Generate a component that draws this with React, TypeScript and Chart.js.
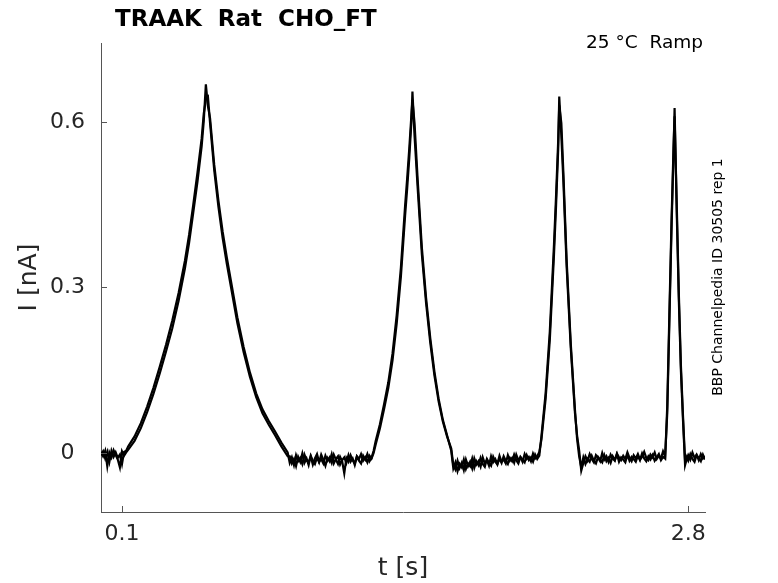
import React, { useEffect, useRef } from 'react';
import { Chart, registerables } from 'chart.js';

Chart.register(...registerables);

const FONT = '"DejaVu Sans", sans-serif';
const INK = '#262626';
const AXIS = '#555555';

const title = 'TRAAK  Rat  CHO_FT';
const condition = '25 °C  Ramp';
const sourceNote = 'BBP Channelpedia ID 30505 rep 1';
const xLabel = 't [s]';
const yLabel = 'I [nA]';

const xTicks = [0.1, 2.8];
const yTicks = [0, 0.3, 0.6];

// sample times [s]
const time = [
  0, 0.01, 0.02, 0.03, 0.04, 0.05, 0.06, 0.07, 0.08, 0.09, 0.1, 0.11, 0.12,
  0.13, 0.16, 0.19, 0.22, 0.25, 0.28, 0.31, 0.34, 0.37, 0.4, 0.42, 0.44, 0.46, 0.48, 0.49, 0.5,
  0.51, 0.52, 0.54, 0.56, 0.58, 0.6, 0.62, 0.65, 0.68, 0.71, 0.74, 0.77, 0.8, 0.83, 0.86, 0.89,
  0.9, 0.91, 0.92, 0.93, 0.94, 0.95, 0.96, 0.97, 0.98, 0.99, 1.0, 1.01, 1.02, 1.03, 1.04, 1.05,
  1.06, 1.07, 1.08, 1.09, 1.1, 1.11, 1.12, 1.13, 1.14, 1.15, 1.16, 1.17, 1.18, 1.19, 1.2, 1.21,
  1.22, 1.23, 1.24, 1.25, 1.26, 1.27, 1.28, 1.29, 1.3,
  1.31, 1.33, 1.35, 1.37, 1.39, 1.41, 1.43, 1.45, 1.46, 1.47, 1.48, 1.485,
  1.495, 1.51, 1.53, 1.55, 1.57, 1.59, 1.61, 1.63, 1.65, 1.67,
  1.68, 1.69, 1.7, 1.71, 1.72, 1.73, 1.74, 1.75, 1.76, 1.77, 1.78, 1.79, 1.8, 1.81, 1.82, 1.83,
  1.84, 1.85, 1.86, 1.87, 1.88, 1.89, 1.9, 1.91, 1.92, 1.93, 1.94, 1.95, 1.96, 1.97, 1.98, 1.99,
  2.0, 2.01, 2.02, 2.03, 2.04, 2.05, 2.06, 2.07, 2.08, 2.09,
  2.1, 2.12, 2.14, 2.16, 2.17, 2.18, 2.185,
  2.195, 2.205, 2.22, 2.24, 2.26, 2.27, 2.28,
  2.29, 2.3, 2.31, 2.32, 2.33, 2.34, 2.35, 2.36, 2.37, 2.38, 2.39, 2.4, 2.41, 2.42, 2.43, 2.44,
  2.45, 2.46, 2.47, 2.48, 2.49, 2.5, 2.51, 2.52, 2.53, 2.54, 2.55, 2.56, 2.57, 2.58, 2.59, 2.6,
  2.61, 2.62, 2.63, 2.64, 2.65, 2.66, 2.67, 2.68, 2.69,
  2.7, 2.71, 2.72, 2.73, 2.735,
  2.745, 2.755, 2.765, 2.775, 2.785,
  2.79, 2.8, 2.81, 2.82, 2.83, 2.84, 2.85, 2.86, 2.87, 2.88,
];

// current [nA], sweep A
const sweepA = [
  0.002, -0.006, 0.004, -0.024, 0.001, -0.008, 0.005, -0.004, -0.012, -0.026, 0.003, -0.005, 0.001,
  0.006, 0.022, 0.045, 0.074, 0.107, 0.144, 0.184, 0.226, 0.276, 0.334, 0.381, 0.436, 0.492, 0.556, 0.602, 0.668,
  0.628, 0.607, 0.522, 0.457, 0.401, 0.354, 0.311, 0.246, 0.192, 0.146, 0.108, 0.079, 0.058, 0.039, 0.019, 0.001,
  -0.018, -0.008, -0.022, -0.004, -0.015, -0.009, -0.02, -0.003, -0.013, -0.017, -0.006, -0.021, -0.01, -0.002,
  -0.016, -0.011, -0.019, -0.005, -0.014, -0.008, -0.018, -0.003, -0.012, -0.02, -0.007, -0.015, -0.037, -0.009,
  -0.016, -0.004, -0.013, -0.019, -0.006, -0.011, -0.002, -0.014, -0.008, -0.017, -0.005, -0.01, 0.0,
  0.016, 0.045, 0.08, 0.118, 0.168, 0.235, 0.32, 0.43, 0.48, 0.535, 0.6, 0.655,
  0.575, 0.48, 0.36, 0.272, 0.2, 0.14, 0.093, 0.057, 0.03, 0.008,
  -0.022, -0.03, -0.014, -0.027, -0.018, -0.031, -0.012, -0.024, -0.016, -0.028, -0.01, -0.021, -0.015, -0.025,
  -0.008, -0.019, -0.013, -0.023, -0.006, -0.017, -0.011, -0.02, -0.005, -0.016, -0.012, -0.019, -0.004, -0.014,
  -0.009, -0.018, -0.003, -0.013, -0.008, -0.016, -0.002, -0.011, -0.007, -0.015, -0.001, -0.01, -0.006, 0.002,
  0.024, 0.098, 0.205, 0.36, 0.45, 0.55, 0.646,
  0.575, 0.49, 0.34, 0.19, 0.072, 0.032, 0.004,
  -0.032, -0.018, -0.006, -0.014, -0.002, -0.011, -0.017, -0.004, -0.009, -0.015, 0.0, -0.012, -0.006, -0.016,
  -0.003, -0.01, -0.014, -0.001, -0.008, -0.013, -0.005, -0.011, 0.001, -0.009, -0.015, -0.004, -0.01, -0.002,
  -0.012, -0.007, 0.002, -0.009, -0.013, -0.003, -0.008, 0.001, -0.011, -0.005, -0.01, 0.003, -0.006,
  0.072, 0.235, 0.4, 0.545, 0.625,
  0.44, 0.28, 0.15, 0.06, -0.022,
  -0.015, -0.004, -0.012, 0.001, -0.009, -0.003, -0.013, -0.002, -0.01, -0.006,
];

// current [nA], sweep B
const sweepB = [
  -0.004, 0.003, -0.01, 0.002, -0.016, 0.004, -0.007, 0.001, -0.009, -0.003, -0.02, 0.002, 0.004,
  0.012, 0.03, 0.054, 0.084, 0.118, 0.156, 0.196, 0.24, 0.29, 0.348, 0.395, 0.45, 0.508, 0.57, 0.615, 0.64,
  0.645, 0.598, 0.512, 0.446, 0.39, 0.343, 0.3, 0.236, 0.183, 0.138, 0.101, 0.072, 0.051, 0.032, 0.012, -0.006,
  -0.006, -0.019, -0.011, -0.024, -0.007, -0.016, -0.001, -0.018, -0.01, -0.022, -0.005, -0.014, -0.02, -0.008,
  -0.017, -0.003, -0.012, -0.023, -0.009, -0.015, -0.002, -0.019, -0.011, -0.006, -0.021, -0.013, -0.008, -0.018,
  -0.004, -0.016, -0.01, -0.022, -0.007, -0.014, -0.019, -0.005, -0.012, -0.002, -0.015, -0.009, 0.004,
  0.022, 0.052, 0.089, 0.128, 0.18, 0.25, 0.336, 0.448, 0.498, 0.552, 0.612, 0.64,
  0.598, 0.495, 0.372, 0.281, 0.208, 0.147, 0.098, 0.06, 0.032, 0.004,
  -0.028, -0.017, -0.033, -0.02, -0.026, -0.012, -0.029, -0.019, -0.024, -0.01, -0.027, -0.015, -0.022, -0.009,
  -0.02, -0.025, -0.011, -0.018, -0.023, -0.007, -0.016, -0.021, -0.01, -0.018, -0.006, -0.014, -0.02, -0.009,
  -0.015, -0.003, -0.013, -0.019, -0.007, -0.012, -0.017, -0.004, -0.013, -0.008, -0.016, -0.003, -0.011, -0.005,
  0.03, 0.108, 0.22, 0.378, 0.468, 0.566, 0.63,
  0.598, 0.505, 0.352, 0.198, 0.078, 0.026, -0.006,
  -0.026, -0.008, -0.02, -0.011, -0.016, -0.005, -0.014, -0.019, -0.007, -0.012, -0.017, -0.004, -0.015, -0.009,
  -0.018, -0.006, -0.013, -0.002, -0.016, -0.008, -0.012, -0.017, -0.003, -0.014, -0.007, -0.011, -0.016, -0.005,
  -0.013, -0.001, -0.01, -0.015, -0.006, -0.012, -0.004, -0.014, -0.008, -0.002, -0.013, -0.007, -0.01,
  0.085, 0.25, 0.415, 0.555, 0.61,
  0.455, 0.292, 0.16, 0.068, -0.014,
  -0.006, -0.014, -0.002, -0.011, -0.016, -0.004, -0.009, -0.015, -0.003, -0.012,
];

const sweeps = [sweepA, sweepB];

// inward tick marks plus the free-standing annotations
const decorations = {
  id: 'decorations',
  afterDraw(chart: any) {
    const { ctx, chartArea, scales } = chart;
    ctx.save();
    ctx.strokeStyle = AXIS;
    ctx.lineWidth = 1;
    yTicks.forEach((v) => {
      const y = Math.round(scales.y.getPixelForValue(v)) + 0.5;
      ctx.beginPath();
      ctx.moveTo(chartArea.left, y);
      ctx.lineTo(chartArea.left + 6, y);
      ctx.stroke();
    });
    xTicks.forEach((v) => {
      const x = Math.round(scales.x.getPixelForValue(v)) + 0.5;
      ctx.beginPath();
      ctx.moveTo(x, chartArea.bottom);
      ctx.lineTo(x, chartArea.bottom - 6);
      ctx.stroke();
    });

    ctx.fillStyle = '#000';
    ctx.textBaseline = 'alphabetic';
    ctx.textAlign = 'left';
    ctx.font = `bold 23px ${FONT}`;
    ctx.fillText(title, 115, 26);

    ctx.textAlign = 'right';
    ctx.font = `18.5px ${FONT}`;
    ctx.fillText(condition, 703, 48);

    ctx.translate(722, 277);
    ctx.rotate(-Math.PI / 2);
    ctx.textAlign = 'center';
    ctx.font = `14px ${FONT}`;
    ctx.fillText(sourceNote, 0, 0);
    ctx.restore();
  },
};

const App = () => {
  const chartRef = useRef<HTMLCanvasElement | null>(null);
  const chartInstance = useRef<Chart | null>(null);

  useEffect(() => {
    if (!chartRef.current) return;
    if (chartInstance.current) chartInstance.current.destroy();

    chartInstance.current = new Chart(chartRef.current, {
      type: 'line',
      data: {
        datasets: sweeps.map((s) => ({
          data: time.map((t, i) => ({ x: t, y: s[i] })),
          borderColor: '#000',
          borderWidth: 2.2,
          pointRadius: 0,
          tension: 0,
        })),
      },
      options: {
        animation: false,
        responsive: true,
        maintainAspectRatio: false,
        layout: { padding: { top: 43, right: 73, left: 0, bottom: 0 } },
        plugins: {
          legend: { display: false },
          tooltip: { enabled: false },
        },
        scales: {
          x: {
            type: 'linear',
            min: 0,
            max: 2.88,
            afterBuildTicks: (scale: any) => {
              scale.ticks = xTicks.map((v) => ({ value: v }));
            },
            afterFit: (scale: any) => {
              scale.height = 71;
            },
            grid: { display: false, drawTicks: false },
            border: { display: true, color: AXIS, width: 1 },
            ticks: {
              autoSkip: false,
              maxRotation: 0,
              padding: 9,
              color: INK,
              font: { family: FONT, size: 22 },
              callback: (v: any) => String(v),
            },
            title: {
              display: true,
              text: xLabel,
              color: INK,
              font: { family: FONT, size: 25 },
              padding: { top: 0, bottom: 0 },
            },
          },
          y: {
            type: 'linear',
            min: -0.107,
            max: 0.743,
            afterBuildTicks: (scale: any) => {
              scale.ticks = yTicks.map((v) => ({ value: v }));
            },
            afterFit: (scale: any) => {
              scale.width = 101;
            },
            grid: { display: false, drawTicks: false },
            border: { display: true, color: AXIS, width: 1 },
            ticks: {
              autoSkip: false,
              crossAlign: 'center',
              padding: 16,
              color: INK,
              font: { family: FONT, size: 22 },
              callback: (v: any) => String(v),
            },
            title: {
              display: true,
              text: yLabel,
              color: INK,
              font: { family: FONT, size: 25 },
              padding: { top: 14, bottom: 0 },
            },
          },
        },
      },
      plugins: [decorations],
    });

    return () => {
      if (chartInstance.current) {
        chartInstance.current.destroy();
        chartInstance.current = null;
      }
    };
  }, []);

  return (
    <div style={{ position: 'absolute', left: 0, top: 0, width: 778, height: 583, background: '#fff' }}>
      <canvas ref={chartRef} />
    </div>
  );
};

export default App;
